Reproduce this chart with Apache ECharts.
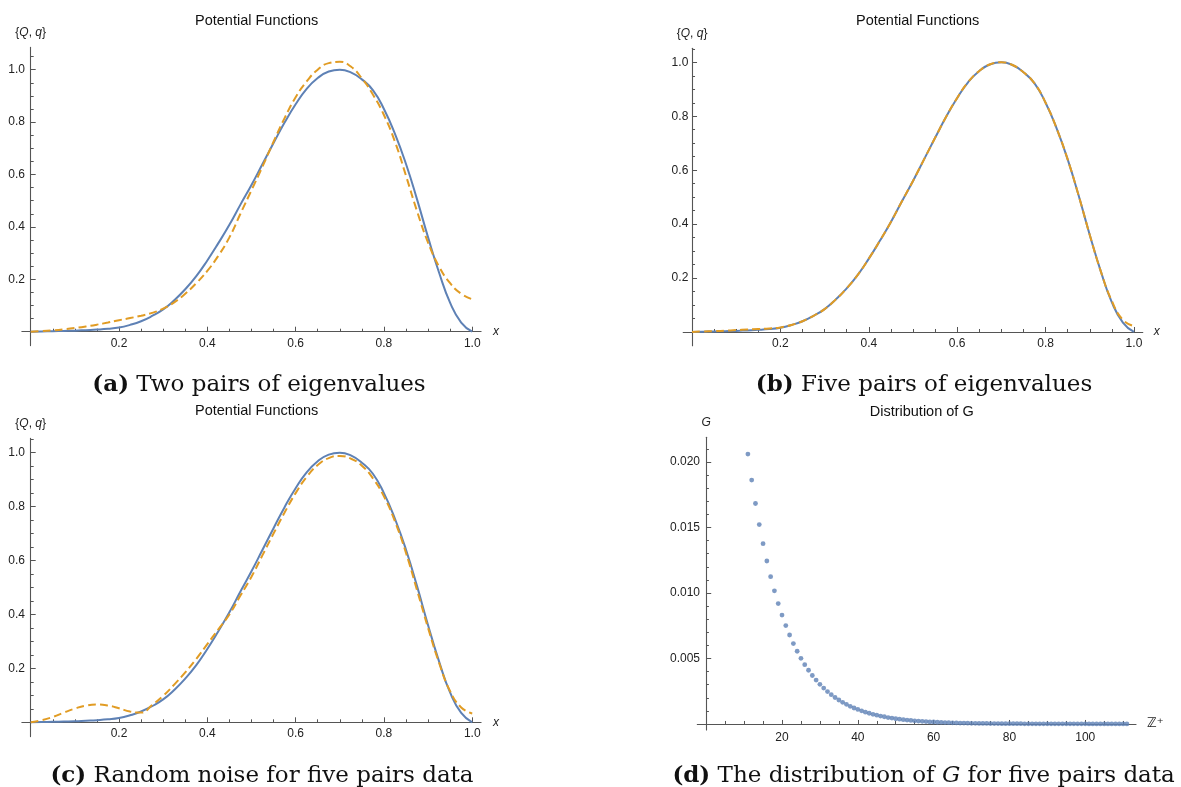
<!DOCTYPE html>
<html>
<head>
<meta charset="utf-8">
<script src="https://cdn.jsdelivr.net/npm/echarts@6/dist/echarts.min.js"></script>
<style>
html,body{margin:0;padding:0;background:#fff;}
#chart{width:1181px;height:787px;}
</style>
</head>
<body>
<div id="chart"></div>
<script>
// ---------- data ----------
const xGrid = [0,0.025,0.05,0.075,0.1,0.125,0.15,0.175,0.2,0.225,0.25,0.275,0.3,0.325,0.35,0.375,0.4,0.425,0.45,0.475,0.5,0.525,0.55,0.575,0.6,0.625,0.65,0.675,0.7,0.725,0.75,0.775,0.8,0.825,0.85,0.875,0.9,0.925,0.95,0.975,1.0];
const trueQ = [0,0.001,0.002,0.003,0.004,0.006,0.008,0.011,0.016,0.026,0.040,0.060,0.085,0.120,0.162,0.212,0.272,0.338,0.408,0.485,0.560,0.640,0.720,0.798,0.868,0.927,0.968,0.993,1.000,0.990,0.963,0.922,0.850,0.755,0.640,0.505,0.360,0.225,0.110,0.035,0];
const qTwoPairs = [0,0.002,0.005,0.009,0.014,0.020,0.027,0.035,0.044,0.052,0.061,0.072,0.088,0.112,0.145,0.185,0.232,0.290,0.360,0.450,0.540,0.630,0.725,0.815,0.895,0.955,1.000,1.025,1.030,1.012,0.967,0.905,0.827,0.725,0.595,0.460,0.340,0.248,0.185,0.145,0.124];
const qFivePairs = [0,0.002,0.003,0.005,0.007,0.009,0.011,0.013,0.017,0.026,0.040,0.060,0.085,0.120,0.162,0.212,0.272,0.338,0.408,0.485,0.560,0.640,0.720,0.798,0.868,0.927,0.968,0.993,1.000,0.990,0.963,0.922,0.850,0.755,0.640,0.505,0.360,0.225,0.115,0.045,0.022];
const qNoisy = [0,0.008,0.020,0.036,0.051,0.062,0.066,0.062,0.052,0.040,0.036,0.064,0.098,0.140,0.185,0.235,0.290,0.345,0.400,0.470,0.540,0.620,0.700,0.778,0.850,0.910,0.954,0.980,0.988,0.978,0.952,0.905,0.838,0.745,0.628,0.490,0.350,0.220,0.115,0.055,0.033];

const gIndex = [11,12,13,14,15,16,17,18,19,20,
  21,22,23,24,25,26,27,28,29,30,
  31,32,33,34,35,36,37,38,39,40,
  41,42,43,44,45,46,47,48,49,50,
  51,52,53,54,55,56,57,58,59,60,
  61,62,63,64,65,66,67,68,69,70,
  71,72,73,74,75,76,77,78,79,80,
  81,82,83,84,85,86,87,88,89,90,
  91,92,93,94,95,96,97,98,99,100,
  101,102,103,104,105,106,107,108,109,110,111];
const gValues = [0.02060,0.01862,0.01683,0.01522,0.01376,0.01244,0.01124,0.01016,0.00919,0.00831,
  0.00751,0.00679,0.00614,0.00555,0.00501,0.00453,0.00410,0.00370,0.00335,0.00303,
  0.00274,0.00247,0.00224,0.00202,0.00183,0.00165,0.00150,0.00135,0.00122,0.00111,
  0.00100,0.00090,0.00082,0.00074,0.00067,0.00060,0.00055,0.00049,0.00045,0.00040,
  0.00037,0.00033,0.00030,0.00027,0.00024,0.00022,0.00020,0.00018,0.00016,0.00015,
  0.00013,0.00012,0.00011,0.00010,0.00009,0.00008,0.00007,0.00007,0.00006,0.00005,
  0.00005,0.00004,0.00004,0.00004,0.00003,0.00003,0.00003,0.00002,0.00002,0.00002,
  0.00002,0.00002,0.00002,0.00001,0.00001,0.00001,0.00001,0.00001,0.00001,0.00001,
  0.00001,0.00001,0.00001,0.00001,0.00001,0.00001,0.00001,0.00001,0.00001,0.00001,
  0,0,0,0,0,0,0,0,0,0,0];

// ---------- ticks ----------
const potXMajor = [0.2,0.4,0.6,0.8,1.0];
const potXMinor = [0.05,0.1,0.15,0.25,0.3,0.35,0.45,0.5,0.55,0.65,0.7,0.75,0.85,0.9,0.95];
const potYMajor = [0.2,0.4,0.6,0.8,1.0];
const potYMinor = [0.05,0.1,0.15,0.25,0.3,0.35,0.45,0.5,0.55,0.65,0.7,0.75,0.85,0.9,0.95,1.05];
const gXMajor = [20,40,60,80,100];
const gXMinor = [5,10,15,25,30,35,45,50,55,65,70,75,85,90,95,105,110];
const gYMajor = [0.005,0.010,0.015,0.020];
const gYMinor = [0.001,0.002,0.003,0.004,0.006,0.007,0.008,0.009,0.011,0.012,0.013,0.014,0.016,0.017,0.018,0.019,0.021];

// ---------- texts ----------
const panelTitles = ['Potential Functions','Potential Functions','Potential Functions','Distribution of G'];
const captions = ['{b|(a)} Two pairs of eigenvalues','{b|(b)} Five pairs of eigenvalues','{b|(c)} Random noise for five pairs data','{b|(d)} The distribution of {i|G} for five pairs data'];

// ---------- build ----------
const AX = '#555';
const LBL = '#222';
const SANS = 'Liberation Sans, Arial, sans-serif';
const SERIF = 'DejaVu Serif, serif';

const grids = [
  {left:21.87, top:47.4, width:459.2, height:298.2},
  {left:683.2, top:48.3, width:459.6, height:297.45},
  {left:21.87, top:438.4, width:459.2, height:298.2},
  {left:697.3, top:437.2, width:438.7, height:292.8}
].map(g => Object.assign({containLabel:false, outerBoundsMode:'none'}, g));

const panels = [
  {x:[-0.02,1.02], y:[-0.053,1.085], xMaj:potXMajor, xMin:potXMinor, yMaj:potYMajor, yMin:potYMinor, xDec:1, yDec:1, xName:'x', yName:'{{i|Q}, {i|q}}', xGap:12, yGap:9, yMargin:-3.1, xMargin:-8.3, xTick:5, xMinTick:3, yTick:5, yMinTick:3},
  {x:[-0.02,1.02], y:[-0.051,1.052], xMaj:potXMajor, xMin:potXMinor, yMaj:potYMajor, yMin:potYMinor, xDec:1, yDec:1, xName:'x', yName:'{{i|Q}, {i|q}}', xGap:11, yGap:9, yMargin:-5.1, xMargin:-7.7, xTick:5, xMinTick:3, yTick:5, yMinTick:3},
  {x:[-0.02,1.02], y:[-0.053,1.053], xMaj:potXMajor, xMin:potXMinor, yMaj:potYMajor, yMin:potYMinor, xDec:1, yDec:1, xName:'x', yName:'{{i|Q}, {i|q}}', xGap:12, yGap:9, yMargin:-3.1, xMargin:-8.7, xTick:5, xMinTick:3, yTick:5, yMinTick:3},
  {x:[-2.35,113.4], y:[-0.00046,0.02189], xMaj:gXMajor, xMin:gXMinor, yMaj:gYMajor, yMin:gYMinor, xDec:0, yDec:3, xName:'ℤ⁺', yName:'{i|G}', xGap:11, yGap:9, yMargin:-2.7, xMargin:1.5, xTick:4, xMinTick:3, yTick:5, yMinTick:2.7}
];

const xAxes = [], yAxes = [];
const nameRich = {i:{fontStyle:'italic', fontFamily:SANS, fontSize:12, color:LBL}};
panels.forEach((p, gi) => {
  xAxes.push({
    gridIndex:gi, type:'value', min:p.x[0], max:p.x[1], position:'bottom',
    axisLine:{show:true, onZero:true, lineStyle:{color:AX, width:1.1}},
    axisTick:{show:true, inside:true, length:p.xTick, customValues:p.xMaj, lineStyle:{color:AX, width:1}},
    axisLabel:{show:true, customValues:p.xMaj, margin:p.xMargin, fontFamily:SANS, fontSize:12, color:LBL,
      formatter:(v)=> p.xDec ? Number(v).toFixed(p.xDec) : String(Math.round(v))},
    splitLine:{show:false},
    name:p.xName, nameLocation:'end', nameGap:p.xGap,
    nameTextStyle: gi===3 ? {fontFamily:'DejaVu Sans, sans-serif', fontSize:13, color:LBL} : {fontFamily:SANS, fontStyle:'italic', fontSize:12, color:LBL}
  });
  xAxes.push({
    gridIndex:gi, type:'value', min:p.x[0], max:p.x[1], position:'bottom',
    axisLine:{show:false, onZero:true},
    axisTick:{show:true, inside:true, length:p.xMinTick, customValues:p.xMin, lineStyle:{color:AX, width:1}},
    axisLabel:{show:false}, splitLine:{show:false}
  });
  yAxes.push({
    gridIndex:gi, type:'value', min:p.y[0], max:p.y[1], position:'left',
    axisLine:{show:true, onZero:true, lineStyle:{color:AX, width:1.1}},
    axisTick:{show:true, inside:true, length:p.yTick, customValues:p.yMaj, lineStyle:{color:AX, width:1}},
    axisLabel:{show:true, customValues:p.yMaj, margin:p.yMargin, fontFamily:SANS, fontSize:12, color:LBL,
      formatter:(v)=> Number(v).toFixed(p.yDec)},
    splitLine:{show:false},
    name:p.yName, nameLocation:'end', nameGap:p.yGap,
    nameTextStyle:{fontFamily:SANS, fontSize:12, color:LBL, rich:nameRich}
  });
  yAxes.push({
    gridIndex:gi, type:'value', min:p.y[0], max:p.y[1], position:'left',
    axisLine:{show:false, onZero:true},
    axisTick:{show:true, inside:true, length:p.yMinTick, customValues:p.yMin, lineStyle:{color:AX, width:1}},
    axisLabel:{show:false}, splitLine:{show:false}
  });
});

const BLUE = '#5E81B5', ORANGE = '#E19C24';
function pairs(ys){ return xGrid.map((x,i)=>[x, ys[i]]); }
const curveSets = [qTwoPairs, qFivePairs, qNoisy];
const series = [];
curveSets.forEach((q, gi) => {
  series.push({type:'line', xAxisIndex:gi*2, yAxisIndex:gi*2, data:pairs(trueQ), showSymbol:false, smooth:0.5,
    lineStyle:{color:BLUE, width:2}, silent:true, animation:false, z:2});
  series.push({type:'line', xAxisIndex:gi*2, yAxisIndex:gi*2, data:pairs(q), showSymbol:false, smooth:0.5,
    lineStyle:{color:ORANGE, width:2, type:[8,4]}, silent:true, animation:false, z:3});
});
series.push({type:'scatter', xAxisIndex:6, yAxisIndex:6, data:gIndex.map((n,i)=>[n, gValues[i]]), symbol:'circle', symbolSize:4.8,
  itemStyle:{color:BLUE}, silent:true, animation:false});

const titlePos = [[251.7,7.5],[912.7,7.5],[251.7,397.5],[916.7,398.5]];
const capPos = [[254,367.5],[919,367.5],[257,758],[918.6,758]];
const titles = [];
panelTitles.forEach((t,i)=>{
  titles.push({text:t, left:titlePos[i][0], top:titlePos[i][1], textAlign:'center',
    textStyle:{fontFamily:SANS, fontSize:14.5, fontWeight:'normal', color:'#111', lineHeight:16.5}});
});
captions.forEach((t,i)=>{
  titles.push({text:t, left:capPos[i][0], top:capPos[i][1], textAlign:'center',
    textStyle:{fontFamily:SERIF, fontSize:23, fontWeight:'normal', color:'#111', lineHeight:26,
      rich:{b:{fontFamily:SERIF, fontSize:23, fontWeight:'bold', color:'#111', lineHeight:26},
            i:{fontFamily:SERIF, fontSize:23, fontStyle:'italic', color:'#111', lineHeight:26}}}});
});

const chart = echarts.init(document.getElementById('chart'), null, {renderer:'canvas'});
chart.setOption({
  animation:false,
  backgroundColor:'#fff',
  title: titles,
  grid: grids,
  xAxis: xAxes,
  yAxis: yAxes,
  series: series
});
</script>
</body>
</html>
